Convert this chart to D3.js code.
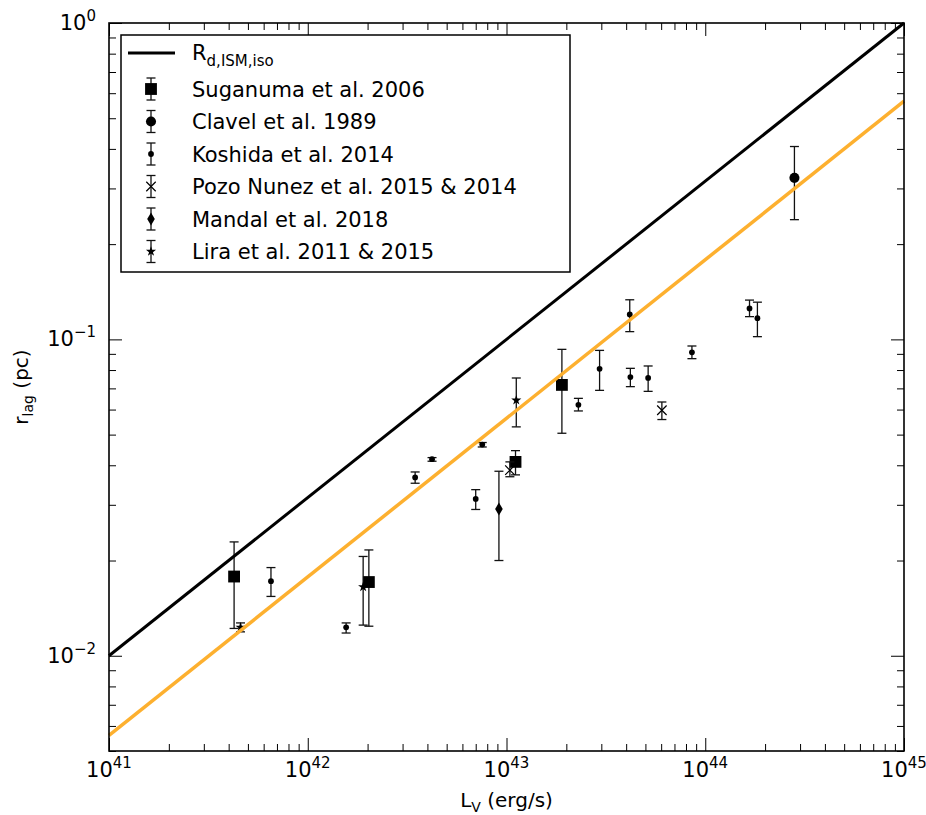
<!DOCTYPE html>
<html>
<head>
<meta charset="utf-8">
<script src="https://cdn.jsdelivr.net/npm/d3@7"></script>
<style>
  body { margin: 0; background: #fff; }
  text { font-family: "DejaVu Sans", sans-serif; fill: #000; }
</style>
</head>
<body>
<div id="chart"></div>
<script>
// each point: L_V (erg/s), r_lag (pc), lower and upper error bar ends (pc)
const suganuma = [
  { L: 4.26e41, r: 0.0178, lo: 0.0122, hi: 0.0229 },
  { L: 2.03e42, r: 0.0171, lo: 0.0124, hi: 0.0216 },
  { L: 1.11e43, r: 0.0410, lo: 0.0373, hi: 0.0445 },
  { L: 1.90e43, r: 0.0718, lo: 0.0505, hi: 0.0930 }
];
const clavel = [
  { L: 2.81e44, r: 0.324, lo: 0.239, hi: 0.407 }
];
const koshida = [
  { L: 6.53e41, r: 0.0172, lo: 0.0154, hi: 0.0190 },
  { L: 1.56e42, r: 0.0123, lo: 0.0118, hi: 0.0127 },
  { L: 3.47e42, r: 0.0366, lo: 0.0351, hi: 0.0381 },
  { L: 4.22e42, r: 0.0418, lo: 0.0412, hi: 0.0423 },
  { L: 7.00e42, r: 0.0313, lo: 0.0290, hi: 0.0335 },
  { L: 7.55e42, r: 0.0465, lo: 0.0457, hi: 0.0472 },
  { L: 2.30e43, r: 0.0621, lo: 0.0594, hi: 0.0651 },
  { L: 2.94e43, r: 0.0807, lo: 0.0690, hi: 0.0923 },
  { L: 4.17e43, r: 0.1199, lo: 0.1058, hi: 0.1334 },
  { L: 4.20e43, r: 0.0760, lo: 0.0709, hi: 0.0810 },
  { L: 5.16e43, r: 0.0755, lo: 0.0685, hi: 0.0824 },
  { L: 8.57e43, r: 0.0910, lo: 0.0869, hi: 0.0953 },
  { L: 1.67e44, r: 0.1253, lo: 0.1180, hi: 0.1331 },
  { L: 1.83e44, r: 0.1167, lo: 0.1020, hi: 0.1311 }
];
const pozoNunez = [
  { L: 1.04e43, r: 0.0386, lo: 0.0368, hi: 0.0410 },
  { L: 6.05e43, r: 0.0597, lo: 0.0558, hi: 0.0634 }
];
const mandal = [
  { L: 9.16e42, r: 0.0291, lo: 0.0200, hi: 0.0383 }
];
const lira = [
  { L: 4.59e41, r: 0.0123, lo: 0.0119, hi: 0.0127 },
  { L: 1.90e42, r: 0.0165, lo: 0.0125, hi: 0.0206 },
  { L: 1.12e43, r: 0.0642, lo: 0.0529, hi: 0.0755 }
];

// relation lines, end points across the plotted range
const rdIsmIso = [[1e41, 0.01], [1e45, 1.0]];
const fitLine = [[1e41, 0.0056], [1e45, 0.566]];

// tick labels
const xTickExp = ["41", "42", "43", "44", "45"];
const yTickExp = ["\u22122", "\u22121", "0"];

const legendLabels = [
  "Suganuma et al. 2006",
  "Clavel et al. 1989",
  "Koshida et al. 2014",
  "Pozo Nunez et al. 2015 & 2014",
  "Mandal et al. 2018",
  "Lira et al. 2011 & 2015"
];

// set the dimensions and margins of the graph
let margin = { top: 23, right: 22, bottom: 64, left: 109 },
  width = 926 - margin.left - margin.right,
  height = 815 - margin.top - margin.bottom;

let x = d3.scaleLog().domain([1e41, 1e45]).range([0, width]);
let y = d3.scaleLog().domain([0.005, 1]).range([height, 0]);

let svg = d3.select("#chart").append("svg")
  .attr("width", 926)
  .attr("height", 815)
  .append("g")
  .attr("transform", "translate(" + margin.left + "," + margin.top + ")");

// marker styles per series
const series = [
  { data: suganuma, sym: d3.symbolSquare, size: 140, fill: true },
  { data: clavel, sym: d3.symbolCircle, size: 80, fill: true },
  { data: koshida, sym: d3.symbolCircle, size: 26, fill: true },
  { data: pozoNunez, sym: d3.symbolTimes, size: 60, fill: false },
  { data: mandal, sym: d3.symbolDiamond, size: 50, fill: true },
  { data: lira, sym: d3.symbolStar, size: 32, fill: true }
];

const drawMarker = (g, s) => {
  let p = g.append("path").attr("d", d3.symbol(s.sym, s.size)());
  if (s.fill) p.attr("fill", "#000");
  else p.attr("fill", "none").attr("stroke", "#000").attr("stroke-width", 1.2);
  return p;
};

const drawBar = (g, y0, y1) => {
  g.append("line").attr("x1", 0).attr("x2", 0).attr("y1", y0).attr("y2", y1);
  g.append("line").attr("x1", -4.5).attr("x2", 4.5).attr("y1", y0).attr("y2", y0);
  g.append("line").attr("x1", -4.5).attr("x2", 4.5).attr("y1", y1).attr("y2", y1);
};

// error bars and markers
series.forEach(s => {
  s.data.forEach(d => {
    let g = svg.append("g")
      .attr("transform", "translate(" + x(d.L) + "," + y(d.r) + ")");
    let bar = g.append("g").attr("stroke", "#111").attr("stroke-width", 1.3);
    drawBar(bar, y(d.hi) - y(d.r), y(d.lo) - y(d.r));
    drawMarker(g, s);
  });
});

// relation lines
let line = d3.line().x(d => x(d[0])).y(d => y(d[1]));
svg.append("path").datum(rdIsmIso)
  .attr("d", line).attr("fill", "none")
  .attr("stroke", "#000").attr("stroke-width", 3);
svg.append("path").datum(fitLine)
  .attr("d", line).attr("fill", "none")
  .attr("stroke", "#fdb02f").attr("stroke-width", 3.5);

// ticks (inward, all four sides)
const minors = (lo, hi) => {
  let out = [];
  for (let e = lo; e < hi; e++)
    for (let m = 2; m <= 9; m++) out.push(m * Math.pow(10, e));
  return out;
};
let xMajor = [1e41, 1e42, 1e43, 1e44, 1e45];
let xMinor = minors(41, 45);
let yMajor = [0.01, 0.1, 1];
let yMinor = minors(-3, 0).filter(v => v >= 0.005);

const tickGroup = (axis) => svg.append("g").call(axis)
  .call(g => g.select(".domain").remove())
  .call(g => g.selectAll("line").attr("stroke", "#000").attr("stroke-width", 1));

tickGroup(d3.axisBottom(x).tickValues(xMajor).tickSize(-13).tickFormat(""))
  .attr("transform", "translate(0," + height + ")");
tickGroup(d3.axisBottom(x).tickValues(xMinor).tickSize(-7).tickFormat(""))
  .attr("transform", "translate(0," + height + ")");
tickGroup(d3.axisTop(x).tickValues(xMajor).tickSize(-13).tickFormat(""));
tickGroup(d3.axisTop(x).tickValues(xMinor).tickSize(-7).tickFormat(""));
tickGroup(d3.axisLeft(y).tickValues(yMajor).tickSize(-13).tickFormat(""));
tickGroup(d3.axisLeft(y).tickValues(yMinor).tickSize(-7).tickFormat(""));
tickGroup(d3.axisRight(y).tickValues(yMajor).tickSize(-13).tickFormat(""))
  .attr("transform", "translate(" + width + ",0)");
tickGroup(d3.axisRight(y).tickValues(yMinor).tickSize(-7).tickFormat(""))
  .attr("transform", "translate(" + width + ",0)");

// frame
svg.append("rect")
  .attr("width", width).attr("height", height)
  .attr("fill", "none").attr("stroke", "#000").attr("stroke-width", 1.6);

// x tick labels
xMajor.forEach((v, i) => {
  let t = svg.append("text")
    .attr("x", x(v)).attr("y", height + 26)
    .attr("text-anchor", "middle")
    .attr("font-size", 21);
  t.append("tspan").text("10");
  t.append("tspan").attr("dy", -9).attr("font-size", 15).text(xTickExp[i]);
});

// y tick labels
yMajor.forEach((v, i) => {
  let t = svg.append("text")
    .attr("x", -13).attr("y", y(v) + 7)
    .attr("text-anchor", "end")
    .attr("font-size", 21);
  t.append("tspan").text("10");
  t.append("tspan").attr("dy", -9).attr("font-size", 15).text(yTickExp[i]);
});

// axis labels
let xl = svg.append("text")
  .attr("x", width / 2).attr("y", height + 56)
  .attr("text-anchor", "middle").attr("font-size", 20);
xl.append("tspan").text("L");
xl.append("tspan").attr("dy", 5).attr("font-size", 14).text("V");
xl.append("tspan").attr("dy", -5).text(" (erg/s)");

let yl = svg.append("text")
  .attr("transform", "translate(-81," + (height / 2) + ") rotate(-90)")
  .attr("text-anchor", "middle").attr("font-size", 20);
yl.append("tspan").text("r");
yl.append("tspan").attr("dy", 5).attr("font-size", 14).text("lag");
yl.append("tspan").attr("dy", -5).text(" (pc)");

// legend
let lg = svg.append("g").attr("transform", "translate(12,12)");
lg.append("rect")
  .attr("width", 449).attr("height", 237)
  .attr("fill", "#fff").attr("stroke", "#000").attr("stroke-width", 1.5);

lg.append("line")
  .attr("x1", 7).attr("x2", 54).attr("y1", 18).attr("y2", 18)
  .attr("stroke", "#000").attr("stroke-width", 3);
let lt = lg.append("text").attr("x", 71).attr("y", 25).attr("font-size", 21);
lt.append("tspan").text("R");
lt.append("tspan").attr("dy", 6).attr("font-size", 15).text("d,ISM,iso");

series.forEach((s, i) => {
  let ry = 54 + i * 32.5;
  let g = lg.append("g").attr("transform", "translate(30," + ry + ")");
  let bar = g.append("g").attr("stroke", "#111").attr("stroke-width", 1.3);
  drawBar(bar, -11, 11);
  drawMarker(g, s);
  lg.append("text")
    .attr("x", 71).attr("y", ry + 7.5)
    .attr("font-size", 21)
    .text(legendLabels[i]);
});
</script>
</body>
</html>
